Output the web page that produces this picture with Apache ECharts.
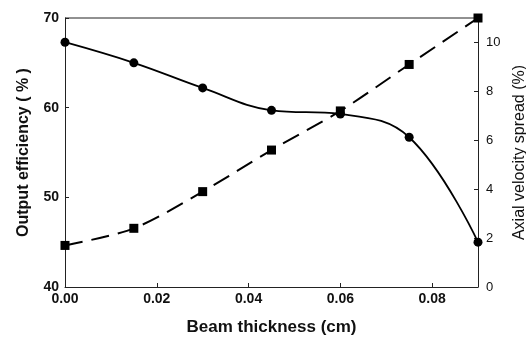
<!DOCTYPE html>
<html>
<head>
<meta charset="utf-8">
<script src="https://cdn.jsdelivr.net/npm/echarts@6/dist/echarts.min.js"></script>
<style>
  html, body { margin: 0; padding: 0; background: #fff; }
  #chart { width: 526px; height: 337px; }
</style>
</head>
<body>
<div id="chart"></div>
<script>
// beam thickness (cm)
const thickness = [0.000, 0.015, 0.030, 0.045, 0.060, 0.075, 0.090]
// output efficiency (%), left axis
const efficiency = [67.3, 65.0, 62.2, 59.7, 59.3, 56.7, 45.0]
// axial velocity spread (%), right axis
const spread = [1.7, 2.4, 3.9, 5.6, 7.2, 9.1, 11.0]

const font = '"Liberation Sans", Arial, sans-serif'

const chart = echarts.init(document.getElementById('chart'))

chart.setOption({
  animation: false,
  backgroundColor: '#fff',
  grid: { left: 65, right: 48, top: 18, bottom: 50, containLabel: false, outerBoundsMode: 'none' },
  xAxis: {
    type: 'value',
    min: 0,
    max: 0.09,
    interval: 0.02,
    name: 'Beam thickness (cm)',
    nameLocation: 'middle',
    nameGap: 32,
    nameTextStyle: { fontFamily: font, fontWeight: 'bold', fontSize: 17, color: '#111' },
    axisLine: { lineStyle: { color: '#222', width: 1 } },
    axisTick: { inside: true, length: 4, lineStyle: { color: '#222' } },
    axisLabel: {
      fontFamily: font, fontWeight: 'bold', fontSize: 14, color: '#111', margin: 5,
      showMaxLabel: false,
      formatter: v => v.toFixed(2)
    },
    splitLine: { show: false }
  },
  yAxis: [
    {
      type: 'value',
      min: 40,
      max: 70,
      interval: 10,
      name: 'Output efficiency ( % )',
      nameLocation: 'middle',
      nameGap: 33,
      nameTextStyle: { fontFamily: font, fontWeight: 'bold', fontSize: 16, color: '#111' },
      axisLine: { show: true, lineStyle: { color: '#222', width: 1 } },
      axisTick: { inside: true, length: 4, lineStyle: { color: '#222' } },
      axisLabel: { fontFamily: font, fontWeight: 'bold', fontSize: 14, color: '#111', margin: 6 },
      splitLine: { show: false }
    },
    {
      type: 'value',
      min: 0,
      max: 11,
      interval: 2,
      name: 'Axial velocity spread (%)',
      nameLocation: 'middle',
      nameGap: 30,
      nameTextStyle: { fontFamily: font, fontSize: 16, color: '#111' },
      axisLine: { show: true, lineStyle: { color: '#222', width: 1 } },
      axisTick: { inside: true, length: 4, lineStyle: { color: '#222' } },
      axisLabel: { fontFamily: font, fontSize: 13, color: '#111', margin: 8, showMaxLabel: false },
      splitLine: { show: false }
    }
  ],
  series: [
    {
      name: 'efficiency',
      type: 'line',
      yAxisIndex: 0,
      smooth: 0.4,
      symbol: 'circle',
      symbolSize: 9,
      itemStyle: { color: '#000' },
      lineStyle: { color: '#000', width: 1.8 },
      data: thickness.map((x, i) => [x, efficiency[i]])
    },
    {
      name: 'spread',
      type: 'line',
      yAxisIndex: 1,
      smooth: 0.3,
      symbol: 'rect',
      symbolSize: 9,
      itemStyle: { color: '#000' },
      lineStyle: { color: '#000', width: 2, type: [18, 9] },
      data: thickness.map((x, i) => [x, spread[i]])
    }
  ]
})

// top border of the frame, placed through the axes' own conversion
const p0 = chart.convertToPixel({ gridIndex: 0 }, [0, 70])
const p1 = chart.convertToPixel({ gridIndex: 0 }, [0.09, 70])
chart.setOption({
  graphic: [{
    type: 'line',
    shape: { x1: p0[0], y1: p0[1], x2: p1[0], y2: p1[1] },
    style: { stroke: '#222', lineWidth: 1 }
  }]
})
</script>
</body>
</html>
